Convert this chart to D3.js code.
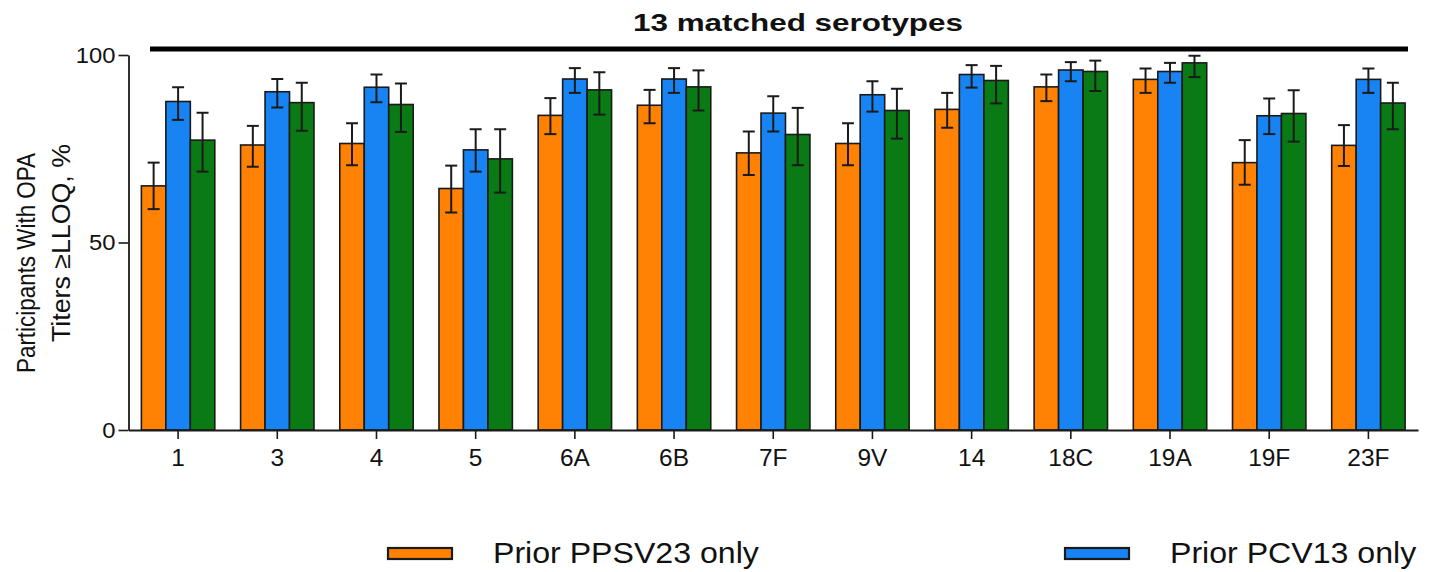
<!DOCTYPE html>
<html>
<head>
<meta charset="utf-8">
<script src="https://cdn.jsdelivr.net/npm/d3@7"></script>
<style>
  html, body { margin: 0; padding: 0; background: #fff; }
  svg { display: block; }
  text { font-family: "Liberation Sans", Arial, Helvetica, sans-serif; fill: #111; }
</style>
</head>
<body>
<svg id="chart" width="1429" height="572"></svg>
<script>
// Serotypes on the x axis
const serotypes = ["1", "3", "4", "5", "6A", "6B", "7F", "9V", "14", "18C", "19A", "19F", "23F"];

// Series names (legend order)
const seriesNames = ["Prior PPSV23 only", "Prior PCV13 only", "Prior PCV13 and PPSV23"];
const seriesColors = ["#FF8205", "#1884F3", "#0A7B14"];

// Percent of participants with OPA titers >= LLOQ, with 95% CI bounds
const ppsv23Pct   = [65.1, 76.0, 76.4, 64.4, 83.9, 86.6, 73.9, 76.4, 85.5, 91.5, 93.5, 71.3, 75.9];
const ppsv23Lower = [58.9, 70.2, 70.6, 58.0, 78.9, 81.8, 68.0, 70.6, 80.6, 87.7, 89.9, 65.4, 70.4];
const ppsv23Upper = [71.3, 81.1, 81.8, 70.5, 88.5, 90.7, 79.6, 81.8, 89.9, 94.8, 96.4, 77.3, 81.3];

const pcv13Pct   = [87.6, 90.2, 91.4, 74.7, 93.6, 93.6, 84.5, 89.4, 94.8, 96.0, 95.6, 83.8, 93.5];
const pcv13Lower = [82.7, 86.0, 87.4, 68.9, 89.9, 89.9, 79.6, 84.9, 91.3, 93.0, 92.6, 78.9, 89.9];
const pcv13Upper = [91.4, 93.6, 94.8, 80.2, 96.5, 96.5, 89.0, 93.0, 97.3, 98.1, 97.9, 88.4, 96.4];

const bothPct   = [77.3, 87.3, 86.8, 72.3, 90.7, 91.5, 78.8, 85.2, 93.2, 95.6, 97.9, 84.4, 87.2];
const bothLower = [68.9, 79.8, 79.5, 63.3, 84.1, 85.2, 70.6, 77.7, 87.1, 90.4, 94.1, 76.9, 80.2];
const bothUpper = [84.6, 92.6, 92.4, 80.2, 95.4, 95.9, 85.9, 91.0, 97.1, 98.5, 99.8, 90.6, 92.6];

const yTicks = [0, 50, 100];
const bracketLabel = "13 matched serotypes";
const yLabelLines = ["Participants With OPA", "Titers \u2265LLOQ, %"];

// Long-format rows for drawing
const seriesData = [
  { pct: ppsv23Pct, lo: ppsv23Lower, hi: ppsv23Upper },
  { pct: pcv13Pct,  lo: pcv13Lower,  hi: pcv13Upper },
  { pct: bothPct,   lo: bothLower,   hi: bothUpper }
];
const rows = [];
serotypes.forEach((s, i) => {
  seriesData.forEach((sd, j) => {
    rows.push({ serotype: s, series: seriesNames[j], value: sd.pct[i], lo: sd.lo[i], hi: sd.hi[i], color: seriesColors[j] });
  });
});

const svg = d3.select("#chart");

const plot = { left: 128.5, right: 1418, top: 55, bottom: 430 };

const x0 = d3.scaleBand()
  .domain(serotypes)
  .range([plot.left, plot.right])
  .paddingInner(0.26)
  .paddingOuter(0.13);

const x1 = d3.scaleBand()
  .domain(seriesNames)
  .range([0, x0.bandwidth()])
  .padding(0);

const y = d3.scaleLinear().domain([0, 100]).range([plot.bottom, plot.top]);

// Stretch text horizontally by factor k using textLength
function stretch(sel, k) {
  sel.each(function () {
    const len = this.getComputedTextLength();
    d3.select(this).attr("textLength", len * k).attr("lengthAdjust", "spacingAndGlyphs");
  });
}

// Bars
svg.append("g").selectAll("rect")
  .data(rows)
  .join("rect")
  .attr("x", d => x0(d.serotype) + x1(d.series))
  .attr("y", d => y(d.value))
  .attr("width", x1.bandwidth())
  .attr("height", d => y(0) - y(d.value))
  .attr("fill", d => d.color)
  .attr("stroke", "#1a1a1a")
  .attr("stroke-width", 1.6);

// Error bars
const capHalf = 6;
const eb = svg.append("g").attr("stroke", "#1a1a1a").attr("stroke-width", 2).attr("fill", "none");
rows.forEach(d => {
  const cx = x0(d.serotype) + x1(d.series) + x1.bandwidth() / 2;
  eb.append("line").attr("x1", cx).attr("x2", cx).attr("y1", y(d.lo)).attr("y2", y(d.hi));
  eb.append("line").attr("x1", cx - capHalf).attr("x2", cx + capHalf).attr("y1", y(d.lo)).attr("y2", y(d.lo));
  eb.append("line").attr("x1", cx - capHalf).attr("x2", cx + capHalf).attr("y1", y(d.hi)).attr("y2", y(d.hi));
});

// Y axis
const yAxis = svg.append("g")
  .attr("transform", `translate(${plot.left},0)`)
  .call(d3.axisLeft(y).tickValues(yTicks).tickSize(10).tickPadding(3).tickSizeOuter(0));
yAxis.select(".domain").attr("stroke", "#1a1a1a").attr("stroke-width", 1.8);
yAxis.selectAll(".tick line").attr("stroke", "#1a1a1a").attr("stroke-width", 1.6);
yAxis.selectAll(".tick text")
  .attr("font-size", 22)
  .attr("font-family", "Liberation Sans, Arial, sans-serif")
  .attr("fill", "#111")
  .call(stretch, 1.08);

// X axis
const xAxis = svg.append("g")
  .attr("transform", `translate(0,${plot.bottom})`)
  .call(d3.axisBottom(x0).tickSize(9).tickPadding(10).tickSizeOuter(0));
xAxis.select(".domain").attr("stroke", "#1a1a1a").attr("stroke-width", 1.8);
xAxis.selectAll(".tick line").attr("stroke", "#1a1a1a").attr("stroke-width", 1.6);
xAxis.selectAll(".tick text")
  .attr("font-size", 24)
  .attr("font-family", "Liberation Sans, Arial, sans-serif")
  .attr("fill", "#111")
  .call(stretch, 1.02);

// Y axis title (two lines)
const yl = svg.append("g");
yl.append("text")
  .attr("transform", "translate(35,263) rotate(-90)")
  .attr("text-anchor", "middle")
  .attr("font-size", 25)
  .attr("textLength", 220).attr("lengthAdjust", "spacingAndGlyphs")
  .text(yLabelLines[0]);
yl.append("text")
  .attr("transform", "translate(70,243) rotate(-90)")
  .attr("text-anchor", "middle")
  .attr("font-size", 25)
  .attr("textLength", 198).attr("lengthAdjust", "spacingAndGlyphs")
  .text(yLabelLines[1]);

// Bracket across the matched serotypes
svg.append("line")
  .attr("x1", 150).attr("x2", 1408)
  .attr("y1", 49).attr("y2", 49)
  .attr("stroke", "#000").attr("stroke-width", 5);
svg.append("text")
  .attr("x", 798).attr("y", 31)
  .attr("text-anchor", "middle")
  .attr("font-size", 24)
  .attr("font-weight", "bold")
  .attr("fill", "#000")
  .attr("textLength", 330).attr("lengthAdjust", "spacingAndGlyphs")
  .text(bracketLabel);

// Legend (first two entries fit across the bottom row)
const legendX = [388, 1065];
const legend = svg.append("g");
legendX.forEach((lx, j) => {
  legend.append("rect")
    .attr("x", lx).attr("y", 548)
    .attr("width", 64).attr("height", 11)
    .attr("fill", seriesColors[j])
    .attr("stroke", "#1a1a1a").attr("stroke-width", 2.2);
  legend.append("text")
    .attr("x", lx + 105).attr("y", 563)
    .attr("font-size", 30)
    .attr("fill", "#111")
    .text(seriesNames[j])
    .call(stretch, 1.07);
});
</script>
</body>
</html>
